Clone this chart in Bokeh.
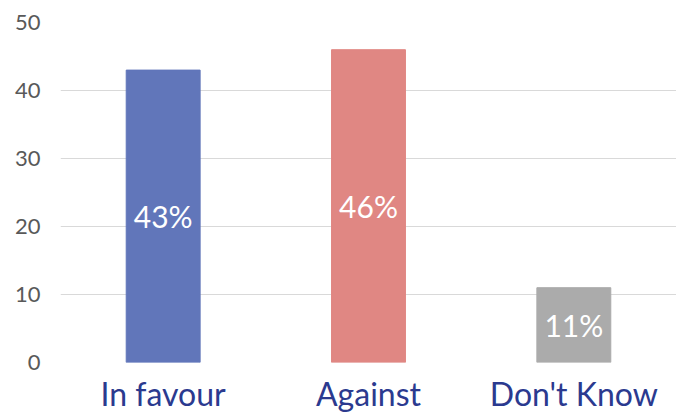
from bokeh.plotting import figure
from bokeh.models import ColumnDataSource, FactorRange, Range1d, FixedTicker
from bokeh.core.properties import value
from bokeh.embed import file_html
from bokeh.resources import INLINE

categories = ["In favour", "Against", "Don't Know"]
values = [43, 46, 11]
labels = ["43%", "46%", "11%"]
colors = ["#6176ba", "#e08783", "#ababab"]
y_ticks = [0, 10, 20, 30, 40, 50]

source = ColumnDataSource(dict(
    x=categories,
    top=values,
    mid=[v / 2 for v in values],
    label=labels,
    color=colors,
))

p = figure(
    x_range=FactorRange(*categories),
    y_range=Range1d(0, 50),
    width=676, height=416,
    output_backend="svg", toolbar_location=None,
    min_border_left=60, min_border_right=0,
    min_border_top=22, min_border_bottom=54,
)
p.outline_line_color = None
p.background_fill_color = "white"

p.vbar(x="x", top="top", width=0.36, color="color", source=source)
p.text(x="x", y="mid", text="label", source=source,
       text_color="white", text_font=value("Lato"), text_font_size="30px",
       text_align="center", text_baseline="middle")

p.xgrid.grid_line_color = None
p.ygrid.grid_line_color = "#d9d9d9"
p.ygrid.grid_line_width = 1

p.yaxis.ticker = FixedTicker(ticks=y_ticks)
p.yaxis.axis_line_color = None
p.yaxis.major_tick_line_color = None
p.yaxis.minor_tick_line_color = None
p.yaxis.major_label_text_font = "Lato"
p.yaxis.major_label_text_font_size = "22px"
p.yaxis.major_label_text_color = "#595959"
p.yaxis.major_label_standoff = 14

p.xaxis.axis_line_color = None
p.xaxis.major_tick_line_color = None
p.xaxis.major_label_text_font = "Lato"
p.xaxis.major_label_text_font_size = "32px"
p.xaxis.major_label_text_color = "#2b3a8f"
p.xaxis.major_label_standoff = 5

open("out.html", "w").write(file_html(p, INLINE))
